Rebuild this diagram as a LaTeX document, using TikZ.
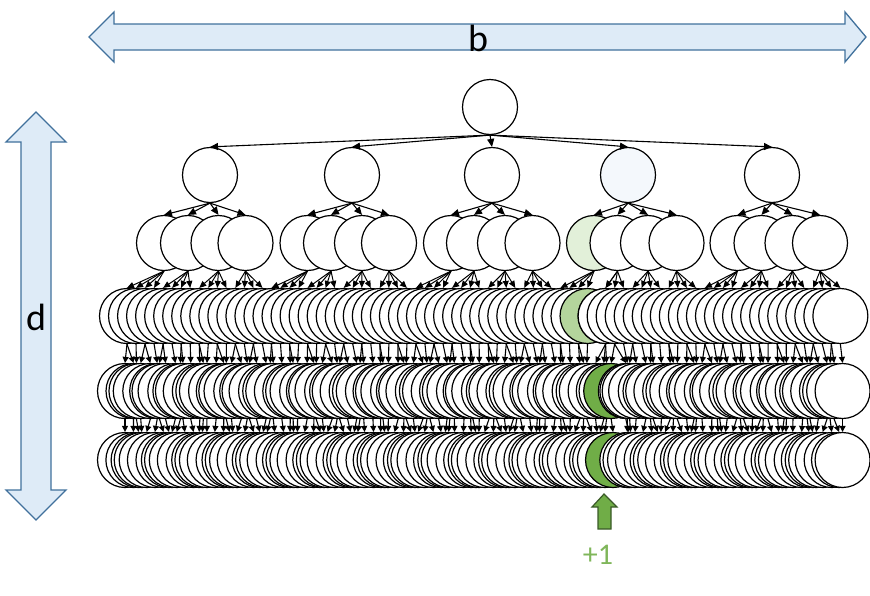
\documentclass[tikz,border=0pt]{standalone}
\usepackage{fontspec}
\setmainfont{Carlito}
\usetikzlibrary{arrows.meta}
\definecolor{bluefill}{HTML}{DEEBF7}
\definecolor{bluedraw}{HTML}{41719C}
\definecolor{paleblue}{HTML}{F4F8FC}
\definecolor{gtwo}{HTML}{E2F0D9}
\definecolor{gthree}{HTML}{B4D59C}
\definecolor{gfour}{HTML}{70AD47}
\definecolor{gtext}{HTML}{7FB65A}
\definecolor{dkgreen}{HTML}{3A5A28}
\begin{document}
\begin{tikzpicture}[x=1pt,y=-1pt,
  cnode/.style={circle,draw=black,fill=white,line width=1.2pt,minimum size=55pt,inner sep=0pt},
  bigarr/.style={-{Triangle[length=8pt,width=7pt]},line width=1.1pt},
  midarr/.style={-{Triangle[length=7pt,width=6pt]},line width=1pt},
  smallarr/.style={-{Triangle[length=6pt,width=6pt]},line width=1.1pt},
  blockarrow/.style={fill=bluefill,draw=bluedraw,line width=1.3pt,line join=miter},
  lbl/.style={font=\fontsize{38}{40}\selectfont,inner sep=0pt}]
\useasboundingbox (0,0) rectangle (870,595);

% dimension arrows
\draw[blockarrow] (89,37) -- (114,12) -- (114,24) -- (845,24) -- (845,12) -- (866,37) -- (845,62) -- (845,50) -- (114,50) -- (114,62) -- cycle;
\node[lbl] (lb) at (478,38) {b};
\draw[blockarrow] (36,112) -- (66,142) -- (51,142) -- (51,490) -- (66,490) -- (36,520) -- (6,490) -- (21,490) -- (21,142) -- (6,142) -- cycle;
\node[lbl] (ld) at (36,317) {d};

% root and level 1
\node[cnode] (r) at (490,107) {};
\foreach \x/\c [count=\i] in {210/white,352/white,492/white,628/paleblue,772/white}
  \node[cnode,fill=\c] (a\i) at (\x,175) {};

% level 2
\foreach \x/\c [count=\i] in {164/white,188/white,218.5/white,245.5/white,
  307.5/white,331/white,362/white,389/white,
  451/white,474/white,505/white,532.5/white,
  594/gtwo,617.5/white,648/white,676.5/white,
  737.5/white,761.5/white,792.5/white,820/white}
  \node[cnode,fill=\c] (n\i) at (\x,243) {};

% level 3
\foreach \k in {0,...,79}{
  \ifnum\k=51 \def\fc{gthree}\else\def\fc{white}\fi
  \ifnum\k=52 \def\ex{9}\else\def\ex{0}\fi
  \node[cnode,fill=\fc] (c\k) at ({127+\k*9.03+\ex},316) {};
}
% level 4
\foreach \m in {0,...,119}{
  \ifnum\m=81 \def\fc{gfour}\else\def\fc{white}\fi
  \ifnum\m=82 \def\ex{5}\else\def\ex{0}\fi
  \ifnum\m=119 \def\jt{0}\else\def\jt{1}\fi
  \node[cnode,fill=\fc] (q\m) at ({125+\m*6.03+\jt*2.5*sin(\m*97)+\ex},391) {};
}
% level 5
\foreach \m in {0,...,119}{
  \ifnum\m=81 \def\fc{gfour}\else\def\fc{white}\fi
  \ifnum\m=82 \def\ex{7}\else\def\ex{0}\fi
  \ifnum\m=119 \def\jt{0}\else\def\jt{1}\fi
  \node[cnode,fill=\fc] (e\m) at ({125+\m*6.03+\jt*2.5*sin(\m*71)+\ex},460) {};
}

% edges
\foreach \i in {1,...,5} \draw[bigarr] (r.south) -- (a\i.north);
\foreach \j in {1,...,20}{
  \pgfmathtruncatemacro\p{int((\j-1)/4)+1}
  \draw[bigarr] (a\p.south) -- (n\j.north);
}
\foreach \k in {0,...,79}{
  \pgfmathtruncatemacro\p{int(\k/4)+1}
  \draw[midarr] (n\p.south) -- (c\k.north);
}
\foreach \m in {0,...,119}{
  \pgfmathtruncatemacro\p{int(\m*2/3)}
  \draw[smallarr] (c\p.south) -- (q\m.north);
  \draw[smallarr] (q\m.south) -- (e\m.north);
}

% +1 marker
\draw[fill=gfour,draw=dkgreen,line width=1.2pt,line join=miter] (604,494) -- (617,507) -- (611,507) -- (611,529) -- (598,529) -- (598,507) -- (592,507) -- cycle;
\node[text=gtext,font=\fontsize{30}{32}\selectfont,inner sep=0pt] (p1) at (598,555) {+1};
\end{tikzpicture}
\end{document}
